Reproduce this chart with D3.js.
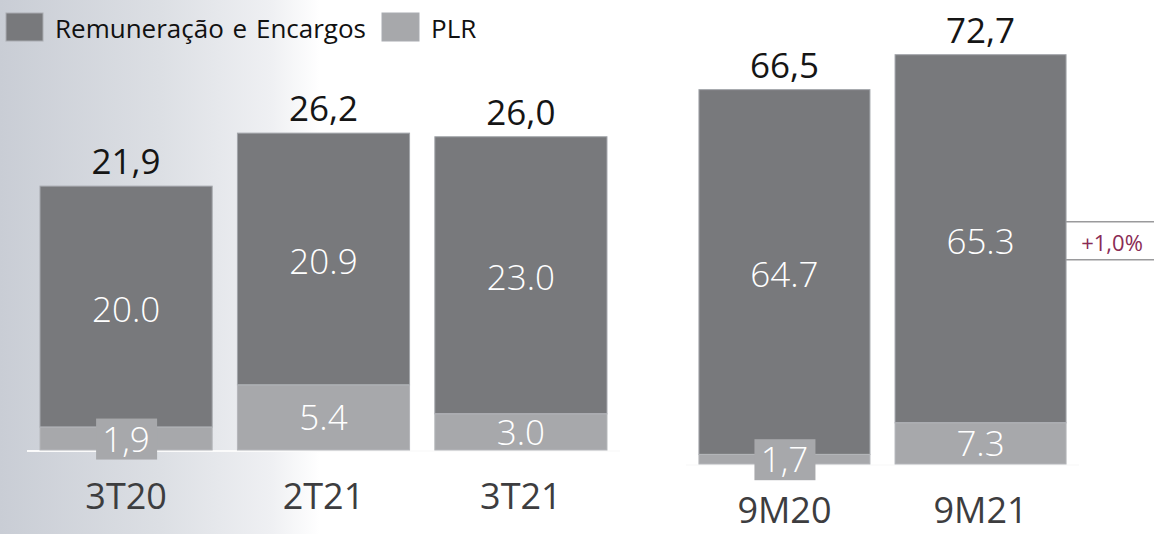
<!DOCTYPE html>
<html>
<head>
<meta charset="utf-8">
<script src="https://cdn.jsdelivr.net/npm/d3@7"></script>
<style>
  html, body { margin: 0; padding: 0; background: #fff; }
  svg { display: block; font-family: "Open Sans", "Noto Sans", sans-serif; }
</style>
</head>
<body>
<div id="chart"></div>
<script>
// trimestres
var quarters = ["3T20", "2T21", "3T21"];
var quarterRem = [20.0, 20.9, 23.0];
var quarterPlr = [1.9, 5.4, 3.0];
var quarterTotal = [21.9, 26.2, 26.0];

// acumulado 9 meses
var periods = ["9M20", "9M21"];
var periodRem = [64.7, 65.3];
var periodPlr = [1.7, 7.3];
var periodTotal = [66.5, 72.7];
var periodVariation = "+1,0%";

var legendLabels = ["Remuneração e Encargos", "PLR"];

var width = 1154, height = 534;
var darkColor = "#78797c", lightColor = "#a7a8ab";

var svg = d3.select("#chart").append("svg")
    .attr("width", width)
    .attr("height", height);

// fundo degradê à esquerda
var grad = svg.append("defs").append("linearGradient")
    .attr("id", "bg")
    .attr("gradientUnits", "userSpaceOnUse")
    .attr("x1", 0).attr("x2", 320).attr("y1", 0).attr("y2", 0);
grad.append("stop").attr("offset", 0).attr("stop-color", "#c9cdd5");
grad.append("stop").attr("offset", 0.5).attr("stop-color", "#dcdfe4");
grad.append("stop").attr("offset", 0.85).attr("stop-color", "#eff0f3");
grad.append("stop").attr("offset", 1).attr("stop-color", "#ffffff");
svg.append("rect").attr("width", width).attr("height", height).attr("fill", "url(#bg)");

var fmtComma = function(v) { return d3.format(".1f")(v).replace(".", ","); };
var fmtDot = d3.format(".1f");

function drawGroup(cats, rem, plr, total, range, y) {
    var x = d3.scaleBand().domain(cats).range(range)
        .paddingInner(0.128).paddingOuter(0.066);
    var rows = cats.map(function(c, i) {
        return { cat: c, rem: rem[i], plr: plr[i], total: total[i] };
    });
    var g = svg.append("g");

    // linha de base
    g.append("line")
        .attr("x1", range[0]).attr("x2", range[1])
        .attr("y1", y(0) + 1).attr("y2", y(0) + 1)
        .attr("stroke", "#fbfbfb").attr("stroke-width", 2);

    var bars = g.selectAll(".bar").data(rows).enter().append("g").attr("class", "bar");

    bars.append("rect")
        .attr("x", function(d) { return x(d.cat); })
        .attr("width", x.bandwidth())
        .attr("y", function(d) { return y(d.plr + d.rem); })
        .attr("height", function(d) { return y(d.plr) - y(d.plr + d.rem); })
        .attr("fill", darkColor)
        .attr("stroke", "#a2a5aa").attr("stroke-width", 1);

    bars.append("rect")
        .attr("x", function(d) { return x(d.cat); })
        .attr("width", x.bandwidth())
        .attr("y", function(d) { return y(d.plr); })
        .attr("height", function(d) { return y(0) - y(d.plr); })
        .attr("fill", lightColor)
        .attr("stroke", "#b4b6ba").attr("stroke-width", 1);

    // rótulo do total
    bars.append("text")
        .attr("x", function(d) { return x(d.cat) + x.bandwidth() / 2; })
        .attr("y", function(d) { return y(d.plr + d.rem) - 12; })
        .attr("text-anchor", "middle")
        .attr("font-size", 35)
        .attr("fill", "#151515")
        .text(function(d) { return fmtComma(d.total); });

    // rótulo remuneração
    bars.append("text")
        .attr("x", function(d) { return x(d.cat) + x.bandwidth() / 2; })
        .attr("y", function(d) { return (y(d.plr) + y(d.plr + d.rem)) / 2 + 15; })
        .attr("text-anchor", "middle")
        .attr("font-size", 35)
        .attr("font-weight", 300)
        .attr("fill", "#fff")
        .text(function(d) { return fmtDot(d.rem); });

    // rótulo PLR (caixa quando a barra é baixa)
    bars.each(function(d) {
        var b = d3.select(this);
        var cx = x(d.cat) + x.bandwidth() / 2;
        var cy = (y(0) + y(d.plr)) / 2;
        var small = (y(0) - y(d.plr)) < 30;
        if (small) {
            b.append("rect")
                .attr("x", cx - 30).attr("width", 61)
                .attr("y", cy - 20).attr("height", 41)
                .attr("fill", lightColor);
        }
        b.append("text")
            .attr("x", cx)
            .attr("y", cy + 13)
            .attr("text-anchor", "middle")
            .attr("font-size", 35)
            .attr("font-weight", 300)
            .attr("fill", "#fff")
            .text(small ? fmtComma(d.plr) : fmtDot(d.plr));
    });

    // categorias
    bars.append("text")
        .attr("x", function(d) { return x(d.cat) + x.bandwidth() / 2; })
        .attr("y", y(0) + 59)
        .attr("text-anchor", "middle")
        .attr("font-size", 36)
        .attr("fill", "#3d3d3f")
        .text(function(d) { return d.cat; });

    return { x: x, y: y, rows: rows };
}

var yLeft = d3.scaleLinear().domain([0, 37.35]).range([450, 0]);
var yRight = d3.scaleLinear().domain([0, 82.3]).range([464, 0]);

drawGroup(quarters, quarterRem, quarterPlr, quarterTotal, [27, 620], yLeft);
var right = drawGroup(periods, periodRem, periodPlr, periodTotal, [686, 1079], yRight);

// variação 9M21 x 9M20
var last = right.rows[right.rows.length - 1];
var ax = right.x(last.cat) + right.x.bandwidth();
var midY = (yRight(last.plr) + yRight(last.plr + last.rem)) / 2;
var ann = svg.append("g");
[midY - 17, midY + 21].forEach(function(ly) {
    ann.append("line")
        .attr("x1", ax).attr("x2", width)
        .attr("y1", ly).attr("y2", ly)
        .attr("stroke", "#9a9a9c").attr("stroke-width", 1.5);
});
ann.append("text")
    .attr("x", (ax + width) / 2 + 2)
    .attr("y", midY + 12)
    .attr("text-anchor", "middle")
    .attr("font-size", 22)
    .attr("fill", "#8a2c55")
    .text(periodVariation);

// legenda
var legend = svg.append("g");
var legendX = [6, 382];
var legendColors = [darkColor, lightColor];
legendLabels.forEach(function(lbl, i) {
    legend.append("rect")
        .attr("x", legendX[i]).attr("y", 13)
        .attr("width", 37).attr("height", 28)
        .attr("fill", legendColors[i])
        .attr("stroke", "#a9acb1").attr("stroke-width", 1);
    legend.append("text")
        .attr("x", legendX[i] + 49).attr("y", 38)
        .attr("font-size", 26)
        .attr("fill", "#111")
        .attr("word-spacing", 2)
        .text(lbl);
});
</script>
</body>
</html>
